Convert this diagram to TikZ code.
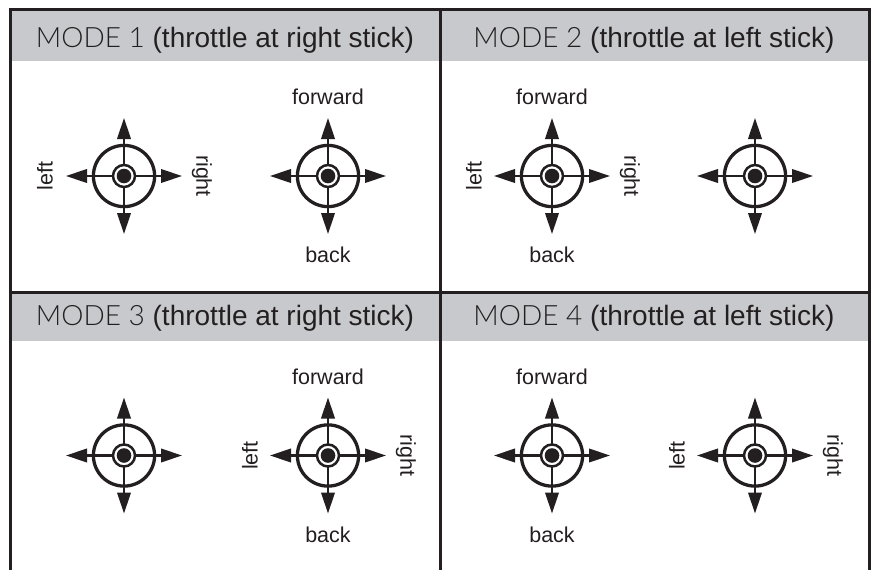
\documentclass[tikz,border=0pt]{standalone}
\usepackage{fontspec}
\setmainfont{Liberation Sans}
\newfontfamily\lightfont{Lato Light}
\usetikzlibrary{arrows.meta,calc}
\definecolor{ink}{HTML}{231F20}
\definecolor{hdr}{HTML}{C7C9CC}
\tikzset{
  frameline/.style={draw=ink, line width=3pt},
  hdrtext/.style={anchor=base, font=\fontsize{28}{32}\selectfont, text=ink, inner sep=0pt},
  lbl/.style={font=\fontsize{21.5}{25}\selectfont, text=ink, inner sep=0pt},
  axisarrow/.style={draw=ink, line width=2.2pt, -{Triangle[length=21pt,width=13.5pt]}},
  outerring/.style={draw=ink, line width=3.3pt},
  innerring/.style={draw=ink, line width=2.5pt, fill=white},
  knob/.style={fill=ink}
}
\newcommand\mkstick[2]{%
  \coordinate (#1) at #2;
  \draw[axisarrow] (#1) -- ++(58,0);
  \draw[axisarrow] (#1) -- ++(-58,0);
  \draw[axisarrow] (#1) -- ++(0,58);
  \draw[axisarrow] (#1) -- ++(0,-58);
  \draw[outerring] (#1) circle[radius=30.6pt];
  \draw[innerring] (#1) circle[radius=11pt];
  \fill[knob] (#1) circle[radius=7.3pt];
}
\begin{document}
\begin{tikzpicture}[x=1pt,y=-1pt]
\useasboundingbox (0,0) rectangle (871,570);
\fill[white] (0,0) rectangle (871,570);
% header bands
\fill[hdr] (10.5,9.5) rectangle (869.5,61);
\fill[hdr] (10.5,292) rectangle (869.5,341);
% frame
\draw[frameline] (10.5,570) -- (10.5,9.5) -- (869.5,9.5) -- (869.5,570);
\draw[frameline] (440.5,9.5) -- (440.5,570);
\draw[frameline] (10.5,292) -- (869.5,292);
% headers
\node[hdrtext] (h1) at (225,47) {{\lightfont MODE 1} (throttle at right stick)};
\node[hdrtext] (h2) at (654,47) {{\lightfont MODE 2} (throttle at left stick)};
\node[hdrtext] (h3) at (225,325.5) {{\lightfont MODE 3} (throttle at right stick)};
\node[hdrtext] (h4) at (654,325.5) {{\lightfont MODE 4} (throttle at left stick)};
% sticks
\mkstick{s1l}{(124,176)}
\mkstick{s1r}{(328,176)}
\mkstick{s2l}{(552,176)}
\mkstick{s2r}{(755,176)}
\mkstick{s3l}{(124,455.5)}
\mkstick{s3r}{(328,455.5)}
\mkstick{s4l}{(552,455.5)}
\mkstick{s4r}{(755,455.5)}
% mode 1 labels
\node[lbl, rotate=90] (m1left) at ($(s1l)+(-79,0)$) {left};
\node[lbl, rotate=-90] (m1right) at ($(s1l)+(78,0)$) {right};
\node[lbl] (m1fwd) at ($(s1r)+(0,-79)$) {forward};
\node[lbl] (m1back) at ($(s1r)+(0,79)$) {back};
% mode 2 labels
\node[lbl, rotate=90] (m2left) at ($(s2l)+(-78,0)$) {left};
\node[lbl, rotate=-90] (m2right) at ($(s2l)+(78,0)$) {right};
\node[lbl] (m2fwd) at ($(s2l)+(0,-79)$) {forward};
\node[lbl] (m2back) at ($(s2l)+(0,79)$) {back};
% mode 3 labels
\node[lbl, rotate=90] (m3left) at ($(s3r)+(-78,0)$) {left};
\node[lbl, rotate=-90] (m3right) at ($(s3r)+(78,0)$) {right};
\node[lbl] (m3fwd) at ($(s3r)+(0,-79)$) {forward};
\node[lbl] (m3back) at ($(s3r)+(0,79)$) {back};
% mode 4 labels
\node[lbl] (m4fwd) at ($(s4l)+(0,-79)$) {forward};
\node[lbl] (m4back) at ($(s4l)+(0,79)$) {back};
\node[lbl, rotate=90] (m4left) at ($(s4r)+(-78,0)$) {left};
\node[lbl, rotate=-90] (m4right) at ($(s4r)+(78,0)$) {right};
\end{tikzpicture}
\end{document}
